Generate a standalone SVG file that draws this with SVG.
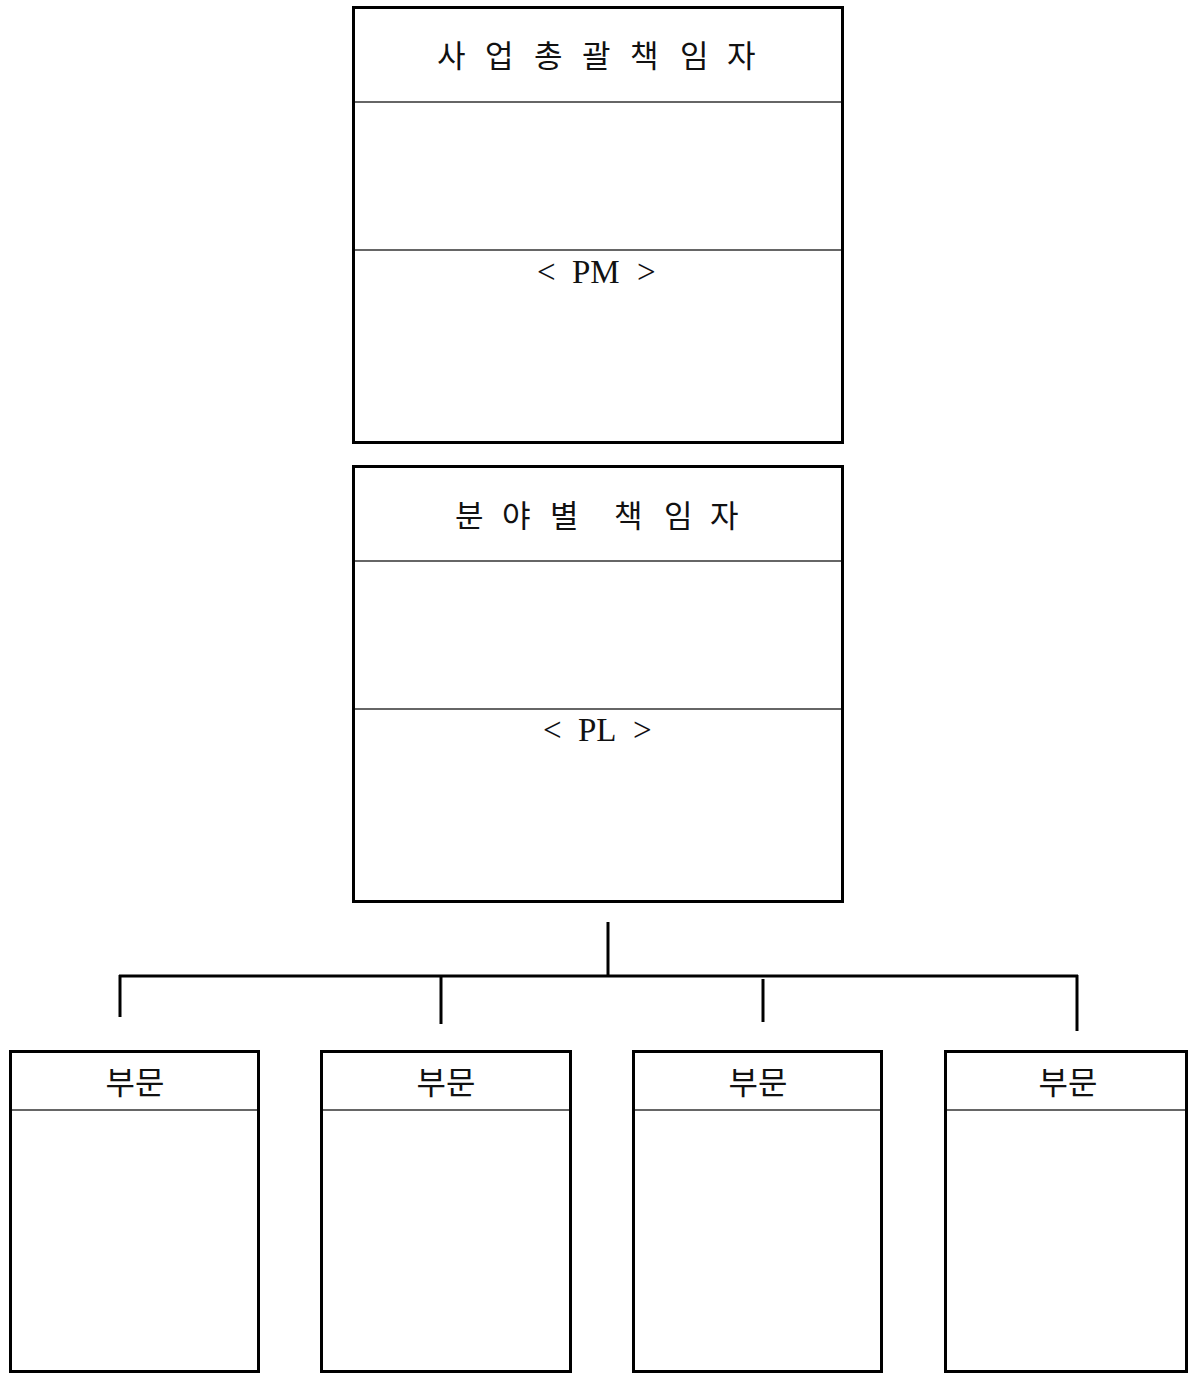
<svg xmlns="http://www.w3.org/2000/svg" width="1188" height="1374" viewBox="0 0 1188 1374">
<style>
.box{fill:#fff;stroke:#000;stroke-width:3}
.div{stroke:#333;stroke-width:1.5}
.conn{stroke:#000;stroke-width:3;fill:none}
.kr{font-family:"Noto Sans CJK KR","Noto Sans",sans-serif;font-size:31px;fill:#111}
.en{font-family:"Liberation Serif",serif;font-size:33px;fill:#111}
</style>
<rect width="1188" height="1374" fill="#fff"/>
<g id="pm">
<rect class="box" x="353.5" y="7.5" width="489" height="435"/>
<line class="div" x1="355" y1="102" x2="841" y2="102"/>
<line class="div" x1="355" y1="250" x2="841" y2="250"/>
<text class="kr" y="67"><tspan x="437">사</tspan><tspan x="485">업</tspan><tspan x="534">총</tspan><tspan x="582">괄</tspan><tspan x="630">책</tspan><tspan x="680">임</tspan><tspan x="727">자</tspan></text>
<text class="en" y="283"><tspan x="537">&lt;</tspan><tspan x="572">PM</tspan><tspan x="637">&gt;</tspan></text>
</g>
<g id="pl">
<rect class="box" x="353.5" y="466.5" width="489" height="435"/>
<line class="div" x1="355" y1="561" x2="841" y2="561"/>
<line class="div" x1="355" y1="709" x2="841" y2="709"/>
<text class="kr" y="527"><tspan x="455">분</tspan><tspan x="502">야</tspan><tspan x="550">별</tspan><tspan x="614">책</tspan><tspan x="664">임</tspan><tspan x="710">자</tspan></text>
<text class="en" y="741"><tspan x="543">&lt;</tspan><tspan x="578">PL</tspan><tspan x="633">&gt;</tspan></text>
</g>
<g id="connectors">
<line class="conn" x1="608" y1="922" x2="608" y2="976"/>
<line class="conn" x1="119" y1="976" x2="1078" y2="976"/>
<line class="conn" x1="120" y1="975" x2="120" y2="1017"/>
<line class="conn" x1="441" y1="976" x2="441" y2="1024"/>
<line class="conn" x1="763" y1="979" x2="763" y2="1022"/>
<line class="conn" x1="1077" y1="975" x2="1077" y2="1031"/>
</g>
<g id="dept1">
<rect class="box" x="10.5" y="1051.5" width="248" height="320"/>
<line class="div" x1="12" y1="1110" x2="257" y2="1110"/>
<text class="kr" x="135" y="1094" text-anchor="middle" style="font-size:32px">부문</text>
</g>
<g id="dept2">
<rect class="box" x="321.5" y="1051.5" width="249" height="320"/>
<line class="div" x1="323" y1="1110" x2="569" y2="1110"/>
<text class="kr" x="446" y="1094" text-anchor="middle" style="font-size:32px">부문</text>
</g>
<g id="dept3">
<rect class="box" x="633.5" y="1051.5" width="248" height="320"/>
<line class="div" x1="635" y1="1110" x2="880" y2="1110"/>
<text class="kr" x="758" y="1094" text-anchor="middle" style="font-size:32px">부문</text>
</g>
<g id="dept4">
<rect class="box" x="945.5" y="1051.5" width="241" height="320"/>
<line class="div" x1="947" y1="1110" x2="1185" y2="1110"/>
<text class="kr" x="1068" y="1094" text-anchor="middle" style="font-size:32px">부문</text>
</g>
</svg>
